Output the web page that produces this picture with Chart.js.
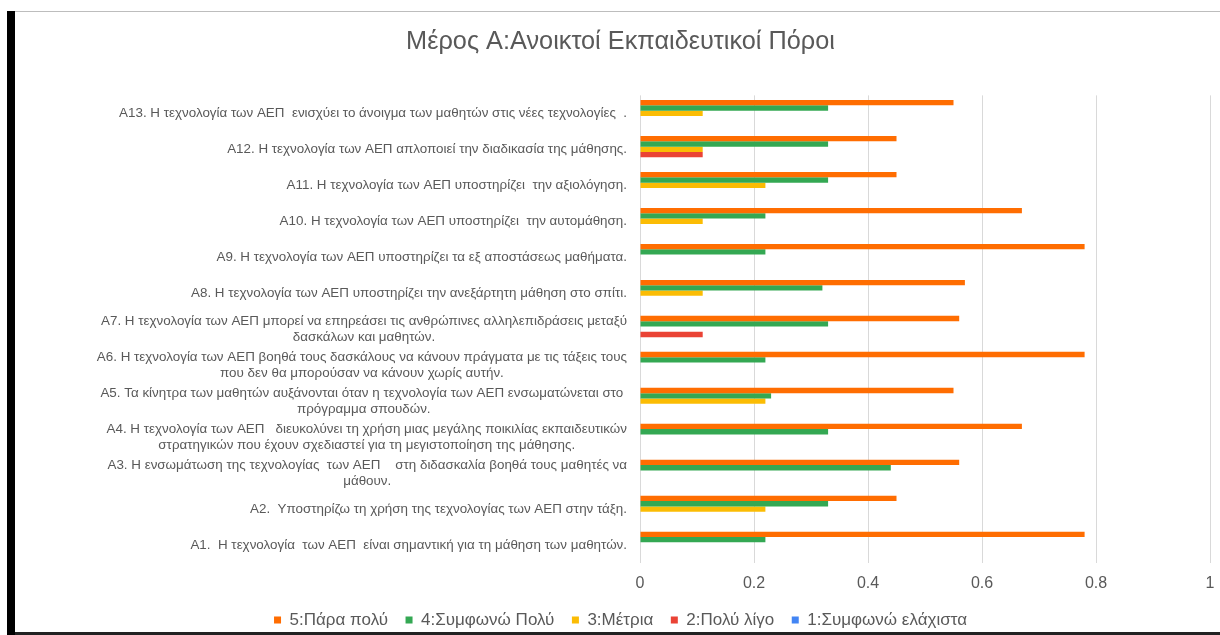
<!DOCTYPE html>
<html>
<head>
<meta charset="utf-8">
<script src="https://cdn.jsdelivr.net/npm/chart.js@4/dist/chart.umd.min.js"></script>
<style>
  html, body { margin: 0; padding: 0; background: #fff; }
  #wrap { position: relative; width: 1220px; height: 635px; }
  .frame { position: absolute; }
</style>
</head>
<body>
<div id="wrap">
  <canvas id="chart" width="1220" height="635"></canvas>
  <div class="frame" style="left:7px;top:11px;width:8px;height:624px;background:#000"></div>
  <div class="frame" style="left:15px;top:11px;width:1205px;height:1px;background:#bdbdbd"></div>
  <div class="frame" style="left:15px;top:632px;width:1205px;height:3px;background:#222"></div>
</div>
<script>
// ── Data (categories listed top to bottom, as drawn) ──
const categories = [
  'Α13. Η τεχνολογία των ΑΕΠ  ενισχύει το άνοιγμα των μαθητών στις νέες τεχνολογίες  .',
  'Α12. Η τεχνολογία των ΑΕΠ απλοποιεί την διαδικασία της μάθησης.',
  'Α11. Η τεχνολογία των ΑΕΠ υποστηρίζει  την αξιολόγηση.',
  'Α10. Η τεχνολογία των ΑΕΠ υποστηρίζει  την αυτομάθηση.',
  'Α9. Η τεχνολογία των ΑΕΠ υποστηρίζει τα εξ αποστάσεως μαθήματα.',
  'Α8. Η τεχνολογία των ΑΕΠ υποστηρίζει την ανεξάρτητη μάθηση στο σπίτι.',
  ['Α7. Η τεχνολογία των ΑΕΠ μπορεί να επηρεάσει τις ανθρώπινες αλληλεπιδράσεις μεταξύ', 'δασκάλων και μαθητών.'],
  ['Α6. Η τεχνολογία των ΑΕΠ βοηθά τους δασκάλους να κάνουν πράγματα με τις τάξεις τους', 'που δεν θα μπορούσαν να κάνουν χωρίς αυτήν.'],
  ['Α5. Τα κίνητρα των μαθητών αυξάνονται όταν η τεχνολογία των ΑΕΠ ενσωματώνεται στο ', 'πρόγραμμα σπουδών.'],
  ['Α4. Η τεχνολογία των ΑΕΠ   διευκολύνει τη χρήση μιας μεγάλης ποικιλίας εκπαιδευτικών', 'στρατηγικών που έχουν σχεδιαστεί για τη μεγιστοποίηση της μάθησης.'],
  ['Α3. Η ενσωμάτωση της τεχνολογίας  των ΑΕΠ    στη διδασκαλία βοηθά τους μαθητές να', 'μάθουν.'],
  'Α2.  Υποστηρίζω τη χρήση της τεχνολογίας των ΑΕΠ στην τάξη.',
  'Α1.  Η τεχνολογία  των ΑΕΠ  είναι σημαντική για τη μάθηση των μαθητών.',
];

//                 A13   A12   A11   A10   A9    A8    A7    A6    A5    A4    A3    A2    A1
const s5 = [      0.55, 0.45, 0.45, 0.67, 0.78, 0.57, 0.56, 0.78, 0.55, 0.67, 0.56, 0.45, 0.78];
const s4 = [      0.33, 0.33, 0.33, 0.22, 0.22, 0.32, 0.33, 0.22, 0.23, 0.33, 0.44, 0.33, 0.22];
const s3 = [      0.11, 0.11, 0.22, 0.11, 0,    0.11, 0,    0,    0.22, 0,    0,    0.22, 0   ];
const s2 = [      0,    0.11, 0,    0,    0,    0,    0.11, 0,    0,    0,    0,    0,    0   ];
const s1 = [      0,    0,    0,    0,    0,    0,    0,    0,    0,    0,    0,    0,    0   ];

const seriesNames = ['5:Πάρα πολύ', '4:Συμφωνώ Πολύ', '3:Μέτρια', '2:Πολύ λίγο', '1:Συμφωνώ ελάχιστα'];
const seriesColors = ['#ff6d01', '#34a853', '#fbbc04', '#ea4335', '#4285f4'];
const xTicks = [0, 0.2, 0.4, 0.6, 0.8, 1];

const FONT = '"Liberation Sans", Arial, sans-serif';
const GREY = '#595959';

// ── y labels: block right-aligned, lines centred inside the block ──
const centredLabels = {
  id: 'centredLabels',
  afterDraw(chart) {
    const y = chart.scales.y, ctx = chart.ctx;
    const right = chart.chartArea.left - 13, lh = 16;
    ctx.save();
    ctx.font = '13.4px ' + FONT;
    ctx.fillStyle = GREY;
    ctx.textAlign = 'center';
    ctx.textBaseline = 'middle';
    chart.data.labels.forEach((lab, i) => {
      const lines = [].concat(lab);
      const w = Math.max(...lines.map(l => ctx.measureText(l).width));
      const cx = right - w / 2, cy = y.getPixelForTick(i);
      lines.forEach((l, k) => ctx.fillText(l, cx, cy + (k - (lines.length - 1) / 2) * lh));
    });
    ctx.restore();
  }
};

new Chart(document.getElementById('chart'), {
  type: 'bar',
  data: {
    labels: categories,
    datasets: [s5, s4, s3, s2, s1].map((d, i) => ({
      label: seriesNames[i], data: d,
      backgroundColor: seriesColors[i], borderWidth: 0,
      categoryPercentage: 0.74, barPercentage: 1,
    })),
  },
  options: {
    indexAxis: 'y',
    responsive: false, animation: false,
    layout: { padding: { left: 31, right: 10, top: 20, bottom: -3.5 } },
    plugins: {
      title: { display: true, text: 'Μέρος Α:Ανοικτοί Εκπαιδευτικοί Πόροι', color: GREY,
               font: { family: FONT, size: 25.3, weight: 'normal' }, padding: { top: 7, bottom: 38 } },
      legend: { position: 'bottom',
                labels: { color: GREY, boxWidth: 7, boxHeight: 7, padding: 17.5,
                          font: { family: FONT, size: 17 } } },
      tooltip: { enabled: false },
    },
    scales: {
      x: {
        min: 0, max: 1,
        afterBuildTicks: s => { s.ticks = xTicks.map(v => ({ value: v })); },
        afterFit: s => { s.height = 31; s.paddingLeft = 0; s.paddingRight = 0; },
        ticks: { color: GREY, font: { family: FONT, size: 16 }, padding: 11,
                 callback: v => String(v) },
        grid: { color: '#d9d9d9', drawTicks: false },
        border: { display: false },
      },
      y: {
        afterFit: s => { s.width = 609; },
        ticks: { color: 'transparent', font: { family: FONT, size: 13 } },
        grid: { display: false },
        border: { display: false },
      },
    },
  },
  plugins: [centredLabels],
});
</script>
</body>
</html>
